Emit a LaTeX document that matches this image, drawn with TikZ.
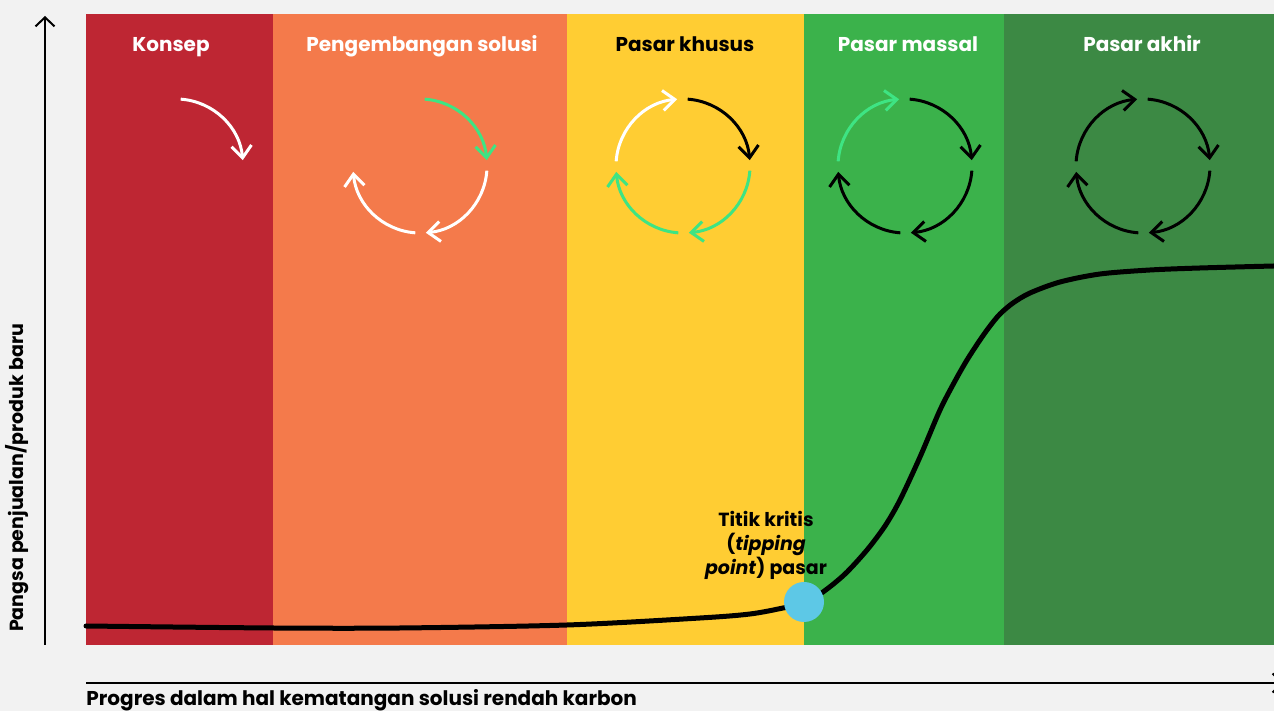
\documentclass[tikz,border=0pt]{standalone}
\usepackage{fontspec}
\setmainfont{Poppins}
\usetikzlibrary{arrows.meta}

\definecolor{bgrey}{HTML}{F2F2F2}
\definecolor{konsepred}{HTML}{BE2633}
\definecolor{devorange}{HTML}{F47A4B}
\definecolor{nicheyellow}{HTML}{FFCD33}
\definecolor{massgreen}{HTML}{3BB24B}
\definecolor{lategreen}{HTML}{3C8944}
\definecolor{mint}{HTML}{3EE483}
\definecolor{tipblue}{HTML}{5DC8E6}

\begin{document}
\begin{tikzpicture}[
  x=0.5pt, y=0.5pt,
  title/.style={anchor=base, text=white, font=\bfseries\fontsize{10}{12}\selectfont},
  lbl/.style={font=\bfseries\fontsize{9.5}{12}\selectfont},
  cyc/.style={line width=1.5pt, -{Straight Barb[length=6pt,width=10pt]}},
  axis/.style={line width=1pt, -{Straight Barb[length=4.5pt,width=9.5pt]}}
]
\useasboundingbox (0,0) rectangle (1274,711);
\fill[bgrey] (0,0) rectangle (1274,711);

% fase pasar
\fill[konsepred]   (86,66)   rectangle (273,697);
\fill[devorange]   (273,66)  rectangle (567,697);
\fill[nicheyellow] (567,66)  rectangle (804,697);
\fill[massgreen]   (804,66)  rectangle (1004,697);
\fill[lategreen]   (1004,66) rectangle (1274,697);

\node[title] (konsep) at (171,659) {Konsep};
\node[title] (dev) at (422,659) {Pengembangan solusi};
\node[title, text=black] (khusus) at (685,659) {Pasar khusus};
\node[title] (massal) at (908,659) {Pasar massal};
\node[title] (akhir) at (1142,659) {Pasar akhir};

% siklus
\coordinate (ck) at (176,545);
\coordinate (cd) at (420,545);
\coordinate (cn) at (683,545);
\coordinate (cm) at (905,545);
\coordinate (ca) at (1143,545);
\foreach \c/\i/\col in {ck/1/white, cd/1/mint, cd/2/white, cd/3/white,
    cn/4/white, cn/1/black, cn/2/mint, cn/3/mint,
    cm/4/mint, cm/1/black, cm/2/black, cm/3/black,
    ca/4/black, ca/1/black, ca/2/black, ca/3/black}
  \draw[cyc, draw=\col] ([shift={({86-90*(\i-1)}:67)}]\c)
    arc[start angle={86-90*(\i-1)}, end angle={5-90*(\i-1)}, radius=67];

% sumbu
\coordinate (yfoot) at (45,66);
\coordinate (ytop) at (45,695);
\coordinate (xfoot) at (86,28);
\coordinate (xtip) at (1283,28);
\draw[axis] (yfoot) -- (ytop);
\draw[axis] (xfoot) -- (xtip);
\node[lbl, rotate=90] (ylabel) at (17,233) {Pangsa penjualan/produk baru};
\node[lbl, font=\bfseries\fontsize{10}{12}\selectfont, anchor=base west, inner xsep=0pt] (xlabel) at (86,5) {Progres dalam hal kematangan solusi rendah karbon};

% kurva adopsi
\draw[line width=2.5pt, line cap=round] plot[smooth, tension=0.5] coordinates {
  (86,85) (273,83) (400,83) (567,86) (700,93) (750,97) (783,103) (804,108)
  (823,119) (845,137) (867,161) (885,185) (900,211) (920,254) (940,301)
  (955,330) (967,351) (980,371) (990,385) (1000,397) (1013,408) (1030,418)
  (1060,429) (1100,437) (1150,441) (1200,443) (1274,445)};
\node[circle, fill=tipblue, minimum size=20pt, inner sep=0pt] (tipping) at (804,109) {};
\node[lbl, align=center] (tiplabel) at (766,166) {Titik kritis\\(\textit{tipping}\\\textit{point}) pasar};
\end{tikzpicture}
\end{document}
